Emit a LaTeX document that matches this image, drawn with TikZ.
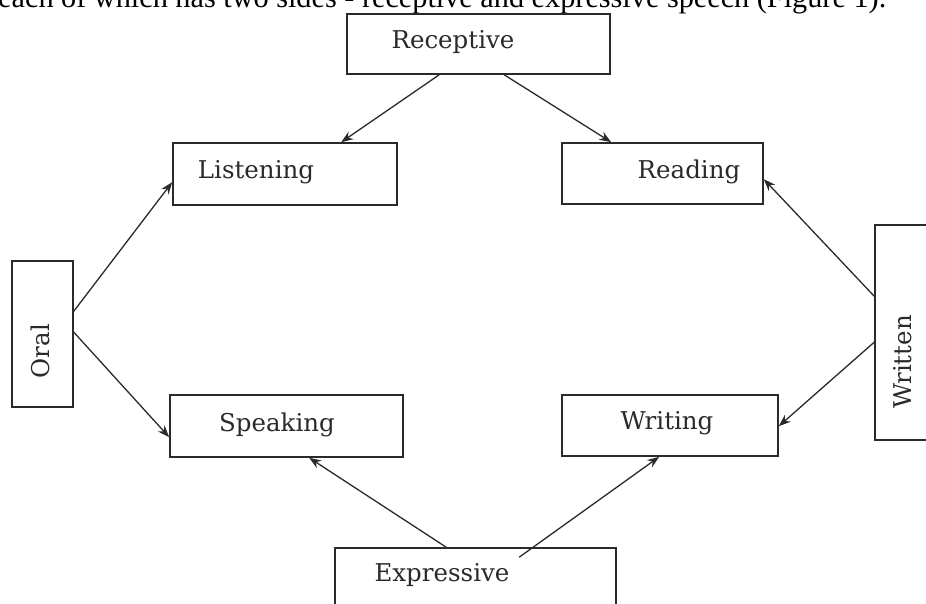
\documentclass[tikz,border=0pt]{standalone}
\usepackage{fontspec}
\setmainfont{DejaVu Serif}
\newfontfamily\hdrfont{Liberation Serif}
\usetikzlibrary{arrows.meta,calc}
\definecolor{ink}{HTML}{2A2A2A}
\tikzset{
  boxnode/.style={draw=ink, line width=1.6bp, rectangle, inner sep=0pt},
  lbl/.style={inner sep=0pt, text=ink, font=\fontsize{24.5bp}{28bp}\selectfont},
  arr/.style={draw=ink, line width=1.3bp, -{Stealth[length=12bp,width=9bp,inset=4bp]}}
}
\begin{document}
\begin{tikzpicture}[x=1bp,y=-1bp]
\useasboundingbox (0,0) rectangle (926,604);
\clip (0,0) rectangle (926,604);
\fill[white] (0,0) rectangle (926,604);
% header line (cut at top)
\node[anchor=base west, inner sep=0pt, text=black] (hdr) at (-2,8)
  {\resizebox{888bp}{!}{\hdrfont\fontsize{29bp}{32bp}\selectfont each of which has two sides - receptive and expressive speech (Figure 1).}};
% boxes
\node[boxnode, minimum width=263bp, minimum height=60bp] (rec) at (478.5,44) {};
\node[boxnode, minimum width=224bp, minimum height=62bp] (lis) at (285,174) {};
\node[boxnode, minimum width=201bp, minimum height=61bp] (rea) at (662.5,173.5) {};
\node[boxnode, minimum width=233bp, minimum height=62bp] (spe) at (286.5,426) {};
\node[boxnode, minimum width=216bp, minimum height=61bp] (wri) at (670,425.5) {};
\node[boxnode, minimum width=281bp, minimum height=100bp] (exp) at (475.5,598) {};
\node[boxnode, minimum width=61bp, minimum height=146bp] (oral) at (42.5,334) {};
\node[boxnode, minimum width=62bp, minimum height=215bp] (wrt) at (906,332.5) {};
% labels
\node[lbl] (trec) at (453,42) {Receptive};
\node[lbl] (tlis) at (256,172) {Listening};
\node[lbl] (trea) at (689,172) {Reading};
\node[lbl] (tspe) at (277,425) {Speaking};
\node[lbl] (twri) at (667,423) {Writing};
\node[lbl] (texp) at (442,575) {Expressive};
\node[lbl, rotate=90] (toral) at (40,351) {Oral};
\node[lbl, rotate=90] (twrt) at (903,362) {Written};
% connectors
\draw[arr] ([xshift=93bp]rec.south west) -- ([xshift=169bp]lis.north west);
\draw[arr] ([xshift=158bp]rec.south west) -- ([xshift=50bp]rea.north west);
\draw[arr] ([yshift=-51bp]oral.north east) -- ([yshift=-40bp]lis.north west);
\draw[arr] ([yshift=-72bp]oral.north east) -- ([yshift=-43bp]spe.north west);
\draw[arr] ([yshift=-72bp]wrt.north west) -- ([yshift=-37bp]rea.north east);
\draw[arr] ([yshift=-118bp]wrt.north west) -- ([yshift=-32bp]wri.north east);
\draw[arr] ([xshift=112bp]exp.north west) -- ([xshift=140bp]spe.south west);
\draw[arr] ([xshift=185bp,yshift=-10bp]exp.north west) -- ([xshift=98bp]wri.south west);
\end{tikzpicture}
\end{document}
